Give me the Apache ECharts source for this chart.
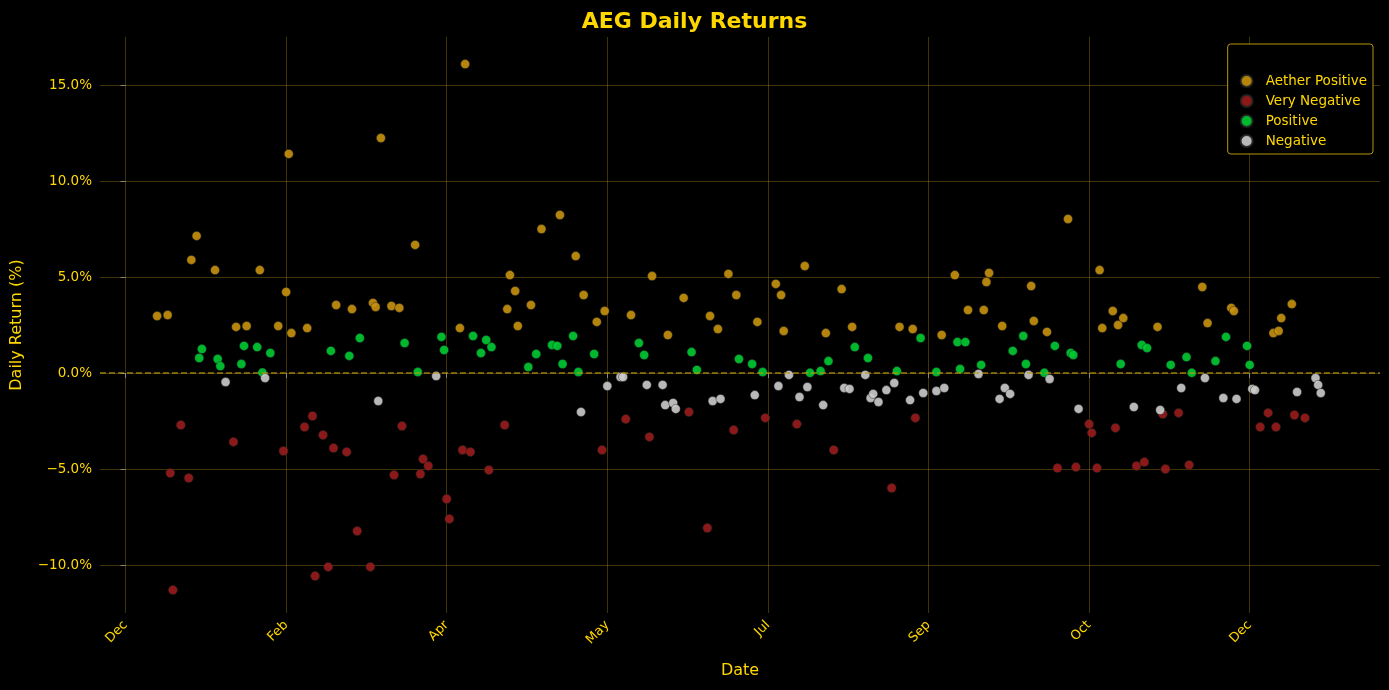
<!DOCTYPE html>
<html><head><meta charset="utf-8">
<script src="https://cdn.jsdelivr.net/npm/echarts@6/dist/echarts.min.js"></script>
<style>html,body{margin:0;background:#000}#c{width:1389px;height:690px}</style>
</head><body><div id="c"></div>
<script>
// x = trading day offset from first tick, y = daily return in %
const tickDays = [0, 61, 122, 183, 244, 305, 366, 427];
const tickLabels = ['Dec', 'Feb', 'Apr', 'May', 'Jul', 'Sep', 'Oct', 'Dec'];
const yTicks = [-10, -5, 0, 5, 10, 15];

const aetherPositive = [[12,2.97],[16,3.02],[25,5.89],[27,7.14],[34,5.36],[42,2.40],[46,2.45],[51,5.36],[58,2.45],[61,4.22],[62,11.41],[63,2.08],[69,2.34],[80,3.54],[86,3.33],[94,3.65],[95,3.44],[97,12.24],[101,3.49],[104,3.39],[110,6.67],[127,2.34],[129,16.09],[145,3.33],[146,5.10],[148,4.27],[149,2.45],[154,3.54],[158,7.50],[165,8.23],[171,6.09],[174,4.06],[179,2.66],[182,3.23],[192,3.02],[200,5.05],[206,1.98],[212,3.91],[222,2.97],[225,2.29],[229,5.16],[232,4.06],[240,2.66],[247,4.64],[249,4.06],[250,2.19],[258,5.57],[266,2.08],[272,4.37],[276,2.40],[294,2.40],[299,2.29],[310,1.98],[315,5.10],[320,3.28],[326,3.28],[327,4.74],[328,5.21],[333,2.45],[344,4.53],[345,2.71],[350,2.14],[358,8.02],[370,5.36],[371,2.34],[375,3.23],[377,2.50],[379,2.86],[392,2.40],[409,4.48],[411,2.60],[420,3.39],[421,3.23],[436,2.08],[438,2.19],[439,2.86],[443,3.59]];
const veryNegative = [[17,-5.21],[18,-11.30],[21,-2.71],[24,-5.47],[41,-3.59],[60,-4.06],[68,-2.81],[71,-2.24],[72,-10.57],[75,-3.23],[77,-10.10],[79,-3.91],[84,-4.11],[88,-8.23],[93,-10.10],[102,-5.31],[105,-2.76],[112,-5.26],[113,-4.48],[115,-4.84],[122,-6.56],[123,-7.60],[128,-4.01],[131,-4.11],[138,-5.05],[144,-2.71],[181,-4.01],[190,-2.40],[199,-3.33],[214,-2.03],[221,-8.07],[231,-2.97],[243,-2.34],[255,-2.66],[269,-4.01],[291,-5.99],[300,-2.34],[354,-4.95],[361,-4.90],[366,-2.66],[367,-3.12],[369,-4.95],[376,-2.86],[384,-4.84],[387,-4.64],[394,-2.14],[395,-5.00],[400,-2.08],[404,-4.79],[431,-2.81],[434,-2.08],[437,-2.81],[444,-2.19],[448,-2.34]];
const positive = [[28,0.78],[29,1.25],[35,0.73],[36,0.36],[44,0.47],[45,1.41],[50,1.35],[52,0.02],[55,1.04],[78,1.15],[85,0.89],[89,1.82],[106,1.56],[111,0.05],[120,1.88],[121,1.20],[132,1.93],[135,1.04],[137,1.72],[139,1.35],[153,0.31],[156,0.99],[162,1.46],[164,1.41],[166,0.47],[170,1.93],[172,0.05],[178,0.99],[195,1.56],[197,0.94],[215,1.09],[217,0.16],[233,0.73],[238,0.47],[242,0.05],[260,0.01],[264,0.10],[267,0.62],[277,1.35],[282,0.78],[293,0.10],[302,1.82],[308,0.05],[316,1.61],[317,0.21],[319,1.61],[325,0.42],[337,1.15],[341,1.93],[342,0.47],[349,0.01],[353,1.41],[359,1.04],[360,0.94],[378,0.47],[386,1.46],[388,1.30],[397,0.42],[403,0.83],[405,0.01],[414,0.62],[418,1.88],[426,1.41],[427,0.42]];
const negative = [[38,-0.47],[53,-0.26],[96,-1.46],[118,-0.16],[173,-2.03],[183,-0.68],[188,-0.21],[189,-0.21],[198,-0.62],[204,-0.62],[205,-1.67],[208,-1.56],[209,-1.87],[223,-1.46],[226,-1.35],[239,-1.15],[248,-0.68],[252,-0.10],[256,-1.25],[259,-0.73],[265,-1.67],[273,-0.78],[275,-0.83],[281,-0.10],[283,-1.30],[284,-1.09],[286,-1.51],[289,-0.89],[292,-0.52],[298,-1.41],[303,-1.04],[308,-0.94],[311,-0.78],[324,-0.05],[332,-1.35],[334,-0.78],[336,-1.09],[343,-0.10],[351,-0.31],[362,-1.87],[383,-1.77],[393,-1.93],[401,-0.78],[410,-0.26],[417,-1.30],[422,-1.35],[428,-0.83],[429,-0.89],[445,-0.99],[452,-0.26],[453,-0.62],[454,-1.04]];

const gold = '#FFD700';
const gridColor = 'rgba(184,150,20,0.35)';
const chart = echarts.init(document.getElementById('c'));

function scatter(name, data, color) {
    return {
        name, type: 'scatter', data, symbolSize: 9,
        itemStyle: {color, opacity: 0.9, borderColor: '#222', borderWidth: 0.5}
    };
}

const series = [
    scatter('Aether Positive', aetherPositive, '#c8920e'),
    scatter('Very Negative', veryNegative, '#9b1c1c'),
    scatter('Positive', positive, '#00cc33'),
    scatter('Negative', negative, '#cccccc')
];
series[0].markLine = {
    silent: true, symbol: 'none', label: {show: false},
    lineStyle: {color: '#b8960f', type: 'dashed', width: 1.5, opacity: 0.8},
    data: [{yAxis: 0}]
};

chart.setOption({
    backgroundColor: '#000',
    animation: false,
    title: {
        text: 'AEG Daily Returns', left: 'center', top: 6,
        textStyle: {color: gold, fontSize: 22, fontWeight: 'bold', fontFamily: 'DejaVu Sans'}
    },
    legend: {
        orient: 'vertical', right: 16, top: 44, padding: [30, 6, 6, 12], itemGap: 6,
        borderColor: '#b8960f', borderWidth: 1, borderRadius: 3, backgroundColor: '#000',
        icon: 'circle', itemWidth: 12, itemHeight: 12,
        textStyle: {color: gold, fontSize: 13.5, fontFamily: 'DejaVu Sans', padding: [0, 0, 0, 8]},
        data: ['Aether Positive', 'Very Negative', 'Positive', 'Negative']
    },
    grid: {left: 100, right: 9, top: 37, bottom: 77},
    xAxis: {
        type: 'value', min: -9.7, max: 476.5,
        name: 'Date', nameLocation: 'middle', nameGap: 50,
        nameTextStyle: {color: gold, fontSize: 16, fontFamily: 'DejaVu Sans'},
        axisLine: {show: false},
        axisTick: {show: true, customValues: tickDays, lineStyle: {color: '#888'}, length: 5},
        axisLabel: {
            customValues: tickDays, rotate: 45, color: gold, fontSize: 13, margin: 10,
            fontFamily: 'DejaVu Sans',
            formatter: v => tickLabels[tickDays.indexOf(v)] || ''
        },
        splitLine: {show: true, customValues: tickDays, lineStyle: {color: gridColor}}
    },
    yAxis: {
        type: 'value', min: -12.5, max: 17.5,
        name: 'Daily Return (%)', nameLocation: 'middle', nameGap: 75,
        nameTextStyle: {color: gold, fontSize: 16, fontFamily: 'DejaVu Sans'},
        axisLine: {show: false},
        axisTick: {show: true, customValues: yTicks, lineStyle: {color: '#888'}, length: 5},
        axisLabel: {
            customValues: yTicks, color: gold, fontSize: 13.5, fontFamily: 'DejaVu Sans',
            formatter: v => (v < 0 ? '\u2212' + Math.abs(v).toFixed(1) : v.toFixed(1)) + '%'
        },
        splitLine: {show: true, customValues: yTicks, lineStyle: {color: gridColor}}
    },
    series
});
</script>
</body></html>
